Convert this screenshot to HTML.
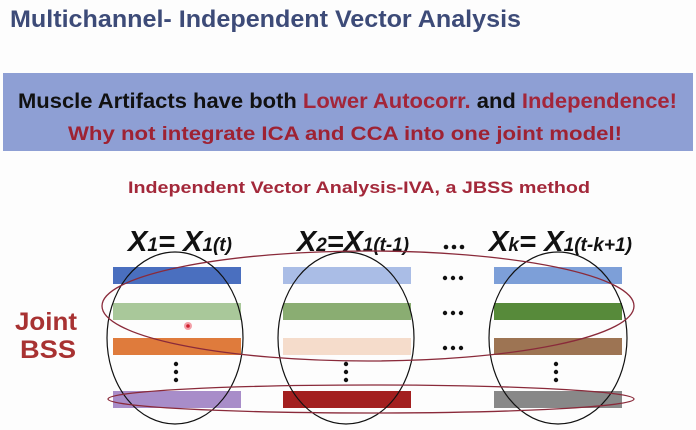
<!DOCTYPE html>
<html><head><meta charset="utf-8"><style>
html,body{margin:0;padding:0;background:#fff;}
svg{display:block;font-family:"Liberation Sans",sans-serif;}
</style></head><body>
<svg width="696" height="430" viewBox="0 0 696 430" xmlns="http://www.w3.org/2000/svg">
<rect width="696" height="430" fill="#fdfdfd"/>
<text x="10" y="27" font-size="24" font-weight="bold" fill="#3d4b78" textLength="511" lengthAdjust="spacingAndGlyphs">Multichannel- Independent Vector Analysis</text>
<rect x="3" y="73" width="690" height="78" fill="#8e9fd4"/>
<text x="18" y="108" font-size="21" font-weight="bold" fill="#111" textLength="659" lengthAdjust="spacingAndGlyphs">Muscle Artifacts have both <tspan fill="#a3263a">Lower Autocorr.</tspan> and <tspan fill="#a3263a">Independence!</tspan></text>
<text x="68" y="140" font-size="19" font-weight="bold" fill="#9e2233" textLength="554" lengthAdjust="spacingAndGlyphs">Why not integrate ICA and CCA into one joint model!</text>
<text x="128" y="193" font-size="17" font-weight="bold" fill="#a3283a" textLength="462" lengthAdjust="spacingAndGlyphs">Independent Vector Analysis-IVA, a JBSS method</text>
<g font-size="29" font-weight="bold" font-style="italic" fill="#111">
<text x="128" y="251" textLength="104" lengthAdjust="spacingAndGlyphs">X<tspan font-size="19">1</tspan>= X<tspan font-size="19">1(t)</tspan></text>
<text x="297" y="251" textLength="112" lengthAdjust="spacingAndGlyphs">X<tspan font-size="19">2</tspan>=X<tspan font-size="19">1(t-1)</tspan></text>
<text x="489" y="251" textLength="143" lengthAdjust="spacingAndGlyphs">X<tspan font-size="19">k</tspan>= X<tspan font-size="19">1(t-k+1)</tspan></text>
</g>
<g fill="#111">
<circle cx="446" cy="247" r="2.3"/><circle cx="454" cy="247" r="2.3"/><circle cx="462" cy="247" r="2.3"/>
</g>
<g>
<rect x="113" y="267" width="128" height="17" fill="#4a6fbf"/>
<rect x="283" y="267" width="128" height="17" fill="#aabde6"/>
<rect x="494" y="267" width="128" height="17" fill="#7d9fd8"/>
<rect x="113" y="303" width="128" height="17" fill="#a9c89a"/>
<rect x="283" y="303" width="128" height="17" fill="#8aad72"/>
<rect x="494" y="303" width="128" height="17" fill="#578a3a"/>
<rect x="113" y="338" width="128" height="17" fill="#df7b3c"/>
<rect x="283" y="338" width="128" height="17" fill="#f5dccb"/>
<rect x="494" y="338" width="128" height="17" fill="#9d7453"/>
<rect x="113" y="391" width="128" height="17" fill="#a88dc9"/>
<rect x="283" y="391" width="128" height="17" fill="#a31f1f"/>
<rect x="494" y="391" width="128" height="17" fill="#888"/>
</g>
<g fill="#111">
<circle cx="445" cy="278" r="2.2"/><circle cx="453" cy="278" r="2.2"/><circle cx="461" cy="278" r="2.2"/>
<circle cx="445" cy="313" r="2.2"/><circle cx="453" cy="313" r="2.2"/><circle cx="461" cy="313" r="2.2"/>
<circle cx="445" cy="348" r="2.2"/><circle cx="453" cy="348" r="2.2"/><circle cx="461" cy="348" r="2.2"/>
<circle cx="176" cy="364" r="2.2"/><circle cx="176" cy="372" r="2.2"/><circle cx="176" cy="380" r="2.2"/>
<circle cx="346" cy="364" r="2.2"/><circle cx="346" cy="372" r="2.2"/><circle cx="346" cy="380" r="2.2"/>
<circle cx="556" cy="364" r="2.2"/><circle cx="556" cy="372" r="2.2"/><circle cx="556" cy="380" r="2.2"/>
</g>
<circle cx="188" cy="326" r="4" fill="#f3a0a8"/><circle cx="188" cy="326" r="1.8" fill="#d02030"/>
<g fill="none" stroke="#111" stroke-width="1.2">
<ellipse cx="175" cy="338" rx="68" ry="86"/>
<ellipse cx="346" cy="338" rx="68" ry="86"/>
<ellipse cx="558" cy="338" rx="69" ry="86"/>
</g>
<g fill="none" stroke="#8a2a3a" stroke-width="1.3">
<ellipse cx="368" cy="306" rx="266" ry="55"/>
<ellipse cx="371" cy="399" rx="263" ry="14"/>
</g>
<text x="15" y="330" font-size="25" font-weight="bold" fill="#a83232" textLength="62" lengthAdjust="spacingAndGlyphs">Joint</text>
<text x="20" y="358" font-size="25" font-weight="bold" fill="#a83232" textLength="56" lengthAdjust="spacingAndGlyphs">BSS</text>
</svg>
</body></html>
